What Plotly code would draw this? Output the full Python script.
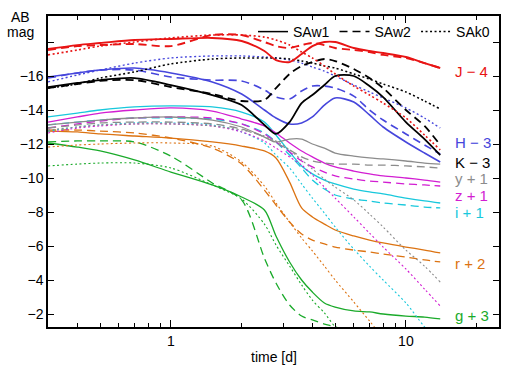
import math
import plotly.graph_objects as go

# ---------------- data ----------------
t_days = [0.3, 0.4, 0.5, 0.7, 1.0, 1.5, 2.0, 2.5, 2.8, 3.2, 3.6, 4.0, 4.5, 5.0,
          6.0, 7.0, 8.0, 10.0, 12.0, 14.0]

models = ["SAw1", "SAw2", "SAk0"]

# J - 4
J_SAw1 = [-17.59, -17.82, -17.94, -18.12, -18.18, -18.24, -18.06, -17.47, -16.94, -16.82,
          -17.29, -17.76, -18.0, -18.0, -17.65, -17.47, -17.35, -17.12, -16.76, -16.47]
J_SAw2 = [-17.53, -17.76, -17.82, -17.88, -17.76, -18.41, -18.41, -18.0, -17.76, -17.65,
          -17.82, -17.94, -17.82, -17.65, -17.53, -17.41, -17.24, -17.06, -16.76, -16.47]
J_SAk0 = [-17.24, -17.53, -17.76, -18.0, -18.24, -18.41, -18.41, -18.29, -18.12, -17.82,
          -17.41, -17.06, -16.59, -16.12, -15.41, -14.88, -14.41, -13.53, -12.53, -11.65]
# H - 3
H_SAw1 = [-15.94, -16.18, -16.35, -16.47, -16.18, -15.65, -14.94, -14.0, -13.53, -13.18,
          -13.24, -13.59, -14.29, -14.71, -14.47, -13.71, -13.0, -12.12, -11.47, -10.94]
H_SAw2 = [-15.88, -16.18, -16.35, -16.35, -15.94, -15.76, -15.71, -15.18, -14.76, -14.65,
          -15.12, -15.41, -15.41, -15.29, -14.82, -14.0, -13.41, -12.59, -11.94, -11.41]
H_SAk0 = [-15.65, -16.06, -16.35, -16.76, -17.06, -17.18, -17.18, -17.12, -17.06, -16.94,
          -16.76, -16.53, -16.29, -16.0, -15.47, -15.06, -14.71, -14.12, -13.53, -12.94]
# K - 3
K_SAw1 = [-15.35, -15.59, -15.76, -15.88, -15.47, -14.88, -14.29, -13.12, -12.59, -13.29,
          -14.41, -14.88, -15.47, -16.0, -16.0, -15.41, -14.76, -13.29, -12.29, -11.35]
K_SAw2 = [-15.29, -15.53, -15.71, -15.76, -15.35, -14.94, -14.53, -14.59, -15.29, -16.12,
          -16.59, -16.82, -17.0, -16.88, -16.41, -15.88, -15.29, -14.0, -13.06, -11.94]
K_SAk0 = [-15.29, -15.53, -15.88, -16.24, -16.71, -17.0, -17.06, -17.06, -17.06, -17.0,
          -16.88, -16.76, -16.59, -16.47, -16.12, -15.82, -15.53, -15.06, -14.53, -14.06]
# y + 1
y_SAw1 = [-13.12, -13.29, -13.41, -13.53, -13.59, -13.41, -13.0, -12.41, -12.12, -12.29,
          -12.29, -12.0, -11.76, -11.47, -11.29, -11.18, -11.12, -11.0, -10.88, -10.82]
y_SAw2 = [-12.94, -13.12, -13.24, -13.29, -13.29, -13.18, -12.88, -12.41, -12.06, -11.65,
          -11.24, -11.0, -10.88, -10.82, -10.82, -10.76, -10.76, -10.71, -10.65, -10.59]
y_SAk0 = [-12.82, -13.0, -13.12, -13.18, -13.18, -13.06, -12.82, -12.47, -12.18, -11.65,
          -11.06, -10.53, -9.94, -9.47, -8.71, -7.88, -7.12, -5.76, -4.82, -3.88]
# z + 1
z_SAw1 = [-13.29, -13.59, -13.82, -14.0, -14.12, -13.94, -13.47, -13.06, -12.65, -12.06,
          -11.59, -11.24, -10.88, -10.65, -10.41, -10.24, -10.12, -10.0, -9.88, -9.76]
z_SAw2 = [-12.94, -13.18, -13.35, -13.53, -13.59, -13.53, -13.18, -12.59, -12.12, -11.53,
          -11.0, -10.65, -10.35, -10.12, -9.94, -9.82, -9.76, -9.65, -9.59, -9.53]
z_SAk0 = [-12.65, -12.94, -13.06, -13.18, -13.18, -13.06, -12.71, -12.18, -11.76, -11.24,
          -10.76, -10.18, -9.47, -8.82, -7.71, -6.76, -5.94, -4.65, -3.47, -2.47]
# i + 1
i_SAw1 = [-13.59, -13.82, -14.0, -14.18, -14.24, -14.18, -13.88, -13.29, -12.53, -11.53,
          -10.71, -10.24, -9.88, -9.65, -9.35, -9.18, -9.06, -8.82, -8.65, -8.53]
i_SAw2 = [-13.12, -13.29, -13.41, -13.53, -13.53, -13.47, -13.18, -12.65, -12.12, -11.35,
          -10.59, -9.88, -9.35, -9.0, -8.76, -8.65, -8.53, -8.41, -8.29, -8.24]
i_SAk0 = [-12.76, -13.0, -13.12, -13.24, -13.24, -13.12, -12.71, -12.06, -11.35, -10.59,
          -9.65, -8.82, -7.94, -7.12, -5.82, -4.82, -4.0, -2.65, -1.24, -0.18]
# r + 2
r_SAw1 = [-12.76, -12.71, -12.59, -12.47, -12.35, -12.12, -11.88, -11.59, -11.18, -9.76,
          -8.24, -7.71, -7.29, -6.94, -6.59, -6.35, -6.18, -5.94, -5.76, -5.59]
r_SAw2 = [-12.82, -12.82, -12.76, -12.65, -12.35, -11.76, -10.82, -9.29, -8.41, -7.41,
          -6.71, -6.35, -6.12, -5.94, -5.76, -5.65, -5.53, -5.35, -5.18, -5.06]
r_SAk0 = [-11.82, -11.94, -12.0, -12.06, -12.06, -11.88, -10.94, -9.53, -8.53, -7.41,
          -6.47, -5.71, -4.82, -4.0, -2.71, -1.59, -0.59, 1.0, 2.47, 3.65]
# g + 3
g_SAw1 = [-12.06, -11.82, -11.59, -11.06, -10.35, -9.59, -8.88, -8.12, -6.59, -5.06,
          -4.0, -3.29, -2.65, -2.41, -2.18, -2.12, -2.0, -1.88, -1.82, -1.71]
g_SAw2 = [-12.12, -12.18, -12.18, -12.12, -11.29, -9.71, -8.71, -5.29, -3.82, -2.53,
          -1.88, -1.65, -1.41, -1.24, -0.88, -0.71, -0.59, -0.47, -0.41, -0.35]
g_SAk0 = [-10.71, -10.82, -10.88, -10.88, -10.59, -9.59, -8.76, -7.29, -6.06, -4.82,
          -3.71, -2.82, -2.06, -1.24, -0.18, 0.71, 1.29, 1.88, 2.18, 2.47]

band_labels = ["J \u2212 4", "H \u2212 3", "K \u2212 3", "y + 1", "z + 1", "i + 1", "r + 2", "g + 3"]
label_mag = [-16.24, -12.06, -10.94, -10.0, -9.0, -8.0, -5.0, -1.94]
label_time = 15.85

y_ticks = [-18, -16, -14, -12, -10, -8, -6, -4, -2]
y_ticktext = ["", "\u221216", "\u221214", "\u221212", "\u221210", "\u22128", "\u22126", "\u22124", "\u22122"]
x_ticks = [1, 10]
x_ticktext = ["1", "10"]
x_minor = [0.4, 0.5, 0.6, 0.7, 0.8, 0.9, 2, 3, 4, 5, 6, 7, 8, 9, 20]

# ---------------- styling ----------------
bands = [
    ("g", [g_SAw1, g_SAw2, g_SAk0], "#1aaa2a", 1.3),
    ("r", [r_SAw1, r_SAw2, r_SAk0], "#dc7312", 1.3),
    ("i", [i_SAw1, i_SAw2, i_SAk0], "#18c8dc", 1.3),
    ("z", [z_SAw1, z_SAw2, z_SAk0], "#d21ed2", 1.3),
    ("y", [y_SAw1, y_SAw2, y_SAk0], "#8c8c8c", 1.3),
    ("H", [H_SAw1, H_SAw2, H_SAk0], "#4646dc", 1.6),
    ("K", [K_SAw1, K_SAw2, K_SAk0], "#000000", 1.8),
    ("J", [J_SAw1, J_SAw2, J_SAk0], "#e81414", 1.9),
]
label_colors = ["#e81414", "#4646dc", "#000000", "#8c8c8c", "#d21ed2", "#18c8dc", "#dc7312", "#1aaa2a"]
dashes = ["solid", "8px,5px", "2px,2.5px"]

fig = go.Figure()
for name, series, color, w in bands:
    for m, (vals, dsh) in enumerate(zip(series, dashes)):
        fig.add_trace(go.Scatter(
            x=t_days, y=vals, mode="lines",
            line=dict(color=color, width=w if m < 2 else w * 0.85, dash=dsh,
                      shape="spline", smoothing=0.8),
            name=models[m], showlegend=False, hoverinfo="skip"))

# legend entries (black samples)
for m, dsh in enumerate(dashes):
    fig.add_trace(go.Scatter(
        x=[None], y=[None], mode="lines", name=models[m],
        line=dict(color="black", width=1.5, dash=dsh), showlegend=True))

font_family = "Liberation Sans, Arial, Helvetica, sans-serif"

annotations = []
for txt, mag, col in zip(band_labels, label_mag, label_colors):
    annotations.append(dict(x=math.log10(label_time), y=mag, xref="x", yref="y",
                            text=txt, showarrow=False, xanchor="left", yanchor="middle",
                            font=dict(size=15, color=col, family=font_family)))
annotations.append(dict(x=-0.062, y=0.997, xref="paper", yref="paper", text="AB",
                        showarrow=False, xanchor="center", yanchor="middle",
                        font=dict(size=14, color="black", family=font_family)))
annotations.append(dict(x=-0.062, y=0.9486, xref="paper", yref="paper", text="mag",
                        showarrow=False, xanchor="center", yanchor="middle",
                        font=dict(size=14, color="black", family=font_family)))
annotations.append(dict(x=0.5, y=-0.0965, xref="paper", yref="paper", text="time [d]",
                        showarrow=False, xanchor="center", yanchor="middle",
                        font=dict(size=14, color="black", family=font_family)))

fig.update_layout(
    width=525, height=367,
    margin=dict(l=48, r=26, t=16, b=40),
    paper_bgcolor="white", plot_bgcolor="white",
    font=dict(family=font_family, size=14, color="black"),
    showlegend=True,
    legend=dict(orientation="h", x=0.4545, y=1.0, xanchor="left", yanchor="top",
                bgcolor="rgba(0,0,0,0)", font=dict(size=14), tracegroupgap=0),
    annotations=annotations,
    xaxis=dict(type="log", range=[math.log10(0.3), math.log10(24.9)],
               tickvals=x_ticks, ticktext=x_ticktext, ticks="inside", ticklen=7,
               tickwidth=1, tickcolor="black", showline=True, linecolor="black",
               linewidth=1.5, mirror="ticks", showgrid=False, zeroline=False,
               minor=dict(tickvals=x_minor, ticks="inside", ticklen=4, tickwidth=1,
                          tickcolor="black", showgrid=False)),
    yaxis=dict(range=[-1.235, -19.53], tickvals=y_ticks, ticktext=y_ticktext,
               ticks="inside", ticklen=6, tickwidth=1, tickcolor="black",
               showline=True, linecolor="black", linewidth=1.5, mirror="ticks",
               showgrid=False, zeroline=False),
)

fig.write_html("out.html")
